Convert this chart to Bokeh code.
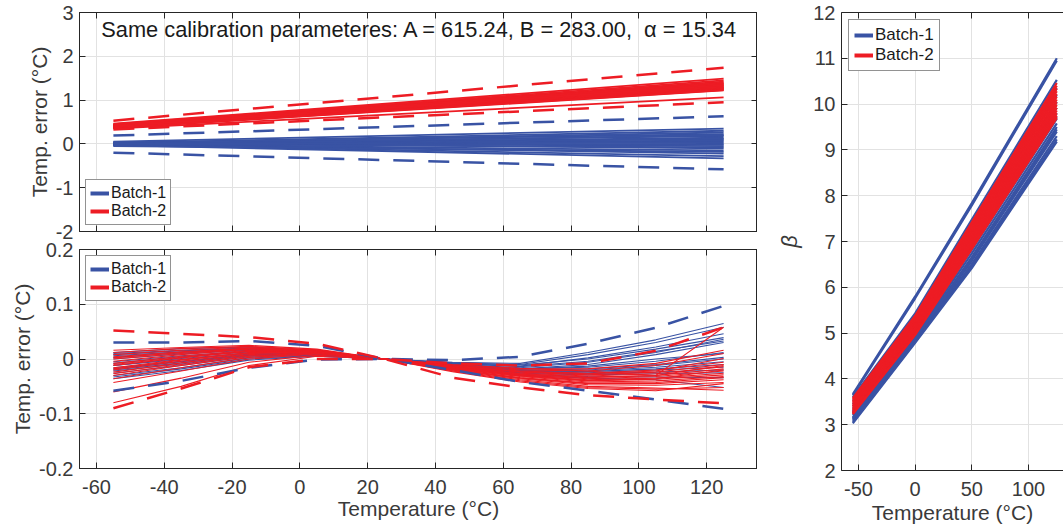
from bokeh.plotting import figure
from bokeh.models import (Range1d, FixedTicker, LinearAxis, Legend, LegendItem,
                          Label, CustomJSTickFormatter)
from bokeh.layouts import row, column
from bokeh.embed import file_html
from bokeh.resources import INLINE

# ---------------- data ----------------
# top-left panel: temperature error with same calibration parameters (lines from -55 to 125 degC)
x_top = [-55, 125]
blue_top_start = [0.04, 0.03, 0.03, 0.02, 0.02, 0.01, 0.01, 0.0, 0.0, -0.01, -0.01,
                  -0.02, -0.02, -0.03, -0.03, -0.04, 0.05, -0.05, 0.02, -0.02, 0.0, 0.01]
blue_top_end = [0.10, -0.05, 0.22, 0.30, -0.10, 0.18, 0.26, -0.22, 0.05, 0.14, -0.15,
                0.20, -0.28, 0.08, -0.33, 0.12, 0.35, -0.18, -0.02, 0.0, -0.08, 0.03]
red_top_start = [0.36, 0.38, 0.40, 0.42, 0.44, 0.37, 0.39, 0.41, 0.43, 0.46,
                 0.38, 0.40, 0.42, 0.35, 0.45, 0.39, 0.41, 0.43, 0.37, 0.40]
red_top_end = [1.22, 1.25, 1.30, 1.35, 1.42, 1.26, 1.28, 1.33, 1.38, 1.49,
               1.24, 1.27, 1.40, 1.06, 1.45, 1.29, 1.31, 1.37, 1.23, 1.34]
blue_top_upper = [0.19, 0.63]
blue_top_lower = [-0.20, -0.58]
red_top_upper = [0.53, 1.74]
red_top_lower = [0.33, 0.95]

# bottom-left panel: residual temperature error
x_bot = [-55, -35, -15, 5, 25, 45, 65, 85, 105, 125]
blue_bot = [
    [-0.005, 0.006, 0.014, 0.012, 0, -0.006, -0.008, 0.012, 0.035, 0.065],
    [0.0, 0.009, 0.016, 0.012, 0, -0.007, -0.010, 0.008, 0.030, 0.058],
    [-0.012, 0.001, 0.011, 0.010, 0, -0.008, -0.013, 0.002, 0.022, 0.046],
    [0.010, 0.016, 0.020, 0.014, 0, -0.007, -0.011, 0.000, 0.018, 0.039],
    [-0.020, -0.007, 0.007, 0.009, 0, -0.009, -0.016, -0.006, 0.012, 0.036],
    [-0.016, -0.004, 0.009, 0.009, 0, -0.010, -0.018, -0.010, 0.008, 0.030],
    [0.006, 0.013, 0.018, 0.013, 0, -0.009, -0.018, -0.015, -0.004, 0.012],
    [-0.026, -0.012, 0.004, 0.007, 0, -0.011, -0.021, -0.018, -0.010, 0.003],
    [-0.030, -0.016, 0.002, 0.006, 0, -0.012, -0.023, -0.022, -0.015, -0.005],
    [0.012, 0.019, 0.022, 0.015, 0, -0.011, -0.021, -0.023, -0.018, -0.010],
    [-0.036, -0.021, -0.002, 0.005, 0, -0.013, -0.025, -0.027, -0.024, -0.020],
    [-0.008, 0.004, 0.013, 0.011, 0, -0.012, -0.026, -0.029, -0.027, -0.025],
    [-0.033, -0.018, 0.000, 0.005, 0, -0.014, -0.028, -0.032, -0.033, -0.034],
    [0.003, 0.011, 0.017, 0.012, 0, -0.013, -0.030, -0.035, -0.038, -0.052],
    [-0.018, -0.005, 0.008, 0.009, 0, -0.012, -0.024, -0.025, -0.020, -0.015],
    [-0.012, -0.001, 0.011, 0.010, 0, -0.008, -0.014, -0.004, 0.014, 0.033],
    [-0.022, -0.009, 0.006, 0.008, 0, -0.010, -0.019, -0.013, 0.000, 0.010],
    [0.008, 0.015, 0.019, 0.013, 0, -0.010, -0.020, -0.020, -0.012, 0.000],
]
red_bot = [
    [0.016, 0.021, 0.025, 0.018, 0, -0.010, -0.017, -0.022, -0.030, 0.058],
    [0.012, 0.019, 0.023, 0.017, 0, -0.011, -0.018, -0.018, -0.008, 0.016],
    [0.008, 0.016, 0.022, 0.016, 0, -0.012, -0.020, -0.022, -0.012, 0.010],
    [0.004, 0.013, 0.020, 0.016, 0, -0.013, -0.022, -0.026, -0.020, -0.006],
    [0.000, 0.010, 0.019, 0.015, 0, -0.014, -0.024, -0.029, -0.024, -0.010],
    [-0.004, 0.008, 0.018, 0.015, 0, -0.014, -0.026, -0.031, -0.027, -0.014],
    [-0.008, 0.005, 0.016, 0.014, 0, -0.015, -0.027, -0.033, -0.030, -0.018],
    [-0.012, 0.002, 0.014, 0.014, 0, -0.016, -0.029, -0.036, -0.032, -0.022],
    [-0.016, -0.001, 0.012, 0.013, 0, -0.017, -0.030, -0.038, -0.035, -0.026],
    [-0.020, -0.004, 0.010, 0.013, 0, -0.017, -0.031, -0.040, -0.037, -0.029],
    [-0.024, -0.007, 0.008, 0.012, 0, -0.018, -0.032, -0.042, -0.040, -0.032],
    [-0.027, -0.010, 0.006, 0.011, 0, -0.019, -0.034, -0.044, -0.043, -0.034],
    [-0.036, -0.016, 0.003, 0.010, 0, -0.020, -0.036, -0.047, -0.048, -0.043],
    [-0.043, -0.022, 0.000, 0.009, 0, -0.021, -0.038, -0.050, -0.053, -0.057],
    [-0.060, -0.035, -0.006, 0.007, 0, -0.022, -0.040, -0.052, -0.055, -0.052],
    [-0.080, -0.050, -0.012, 0.005, 0, -0.023, -0.042, -0.054, -0.058, -0.045],
    [0.002, 0.012, 0.019, 0.016, 0, -0.013, -0.023, -0.027, -0.022, 0.001],
    [-0.010, 0.003, 0.015, 0.014, 0, -0.015, -0.028, -0.034, -0.030, -0.012],
    [-0.018, -0.002, 0.011, 0.013, 0, -0.016, -0.030, -0.039, -0.036, -0.020],
    [-0.030, -0.012, 0.005, 0.011, 0, -0.019, -0.035, -0.045, -0.045, -0.038],
]
blue_bot_upper = [0.030, 0.030, 0.033, 0.024, 0, -0.002, 0.004, 0.028, 0.057, 0.097]
blue_bot_lower = [-0.058, -0.040, -0.016, -0.001, 0, -0.020, -0.042, -0.058, -0.074, -0.091]
red_bot_upper = [0.052, 0.046, 0.040, 0.028, 0, -0.008, -0.012, -0.008, 0.015, 0.058]
red_bot_lower = [-0.090, -0.054, -0.015, 0.000, 0, -0.034, -0.052, -0.066, -0.074, -0.081]

# right panel: beta versus temperature
x_beta = [-55, 0, 50, 125]
blue_beta = [
    [3.67, 5.80, 7.84, 11.00],
    [3.64, 5.76, 7.79, 10.95],
    [3.60, 5.43, 7.48, 10.53],
    [3.52, 5.32, 7.33, 10.35],
    [3.45, 5.23, 7.20, 10.20],
    [3.40, 5.16, 7.10, 10.05],
    [3.35, 5.10, 7.00, 9.92],
    [3.30, 5.04, 6.91, 9.80],
    [3.25, 4.99, 6.82, 9.68],
    [3.20, 4.94, 6.74, 9.58],
    [3.16, 4.90, 6.66, 9.50],
    [3.12, 4.86, 6.58, 9.40],
    [3.09, 4.83, 6.51, 9.30],
    [3.06, 4.81, 6.46, 9.23],
    [3.03, 4.79, 6.42, 9.18],
    [3.28, 5.01, 6.86, 9.72],
    [3.14, 4.88, 6.62, 9.45],
]
red_beta = [
    [3.58, 5.38, 7.42, 10.46],
    [3.55, 5.34, 7.37, 10.40],
    [3.52, 5.30, 7.32, 10.34],
    [3.49, 5.26, 7.27, 10.28],
    [3.46, 5.23, 7.22, 10.22],
    [3.43, 5.19, 7.17, 10.16],
    [3.40, 5.16, 7.12, 10.10],
    [3.37, 5.12, 7.07, 10.04],
    [3.34, 5.09, 7.03, 9.98],
    [3.31, 5.05, 6.98, 9.92],
    [3.28, 5.02, 6.94, 9.86],
    [3.26, 4.99, 6.90, 9.80],
    [3.24, 4.97, 6.86, 9.75],
    [3.23, 4.96, 6.84, 9.70],
]

temp_ticks = [-60, -40, -20, 0, 20, 40, 60, 80, 100, 120]
err_top_ticks = [-2, -1, 0, 1, 2, 3]
err_bot_ticks = [-0.2, -0.1, 0, 0.1, 0.2]
beta_temp_ticks = [-50, 0, 50, 100]
beta_ticks = [2, 3, 4, 5, 6, 7, 8, 9, 10, 11, 12]
series_names = ["Batch-1", "Batch-2"]
title_text = "Same calibration parameteres: A = 615.24, B = 283.00, \u00a0\u03b1 = 15.34"

# ---------------- style ----------------
BLUE = "#3953A4"
RED = "#ED1C24"
AX = "#262626"
TXT = "#3a3a3a"
GRID = "#E2E2E2"
FONT = "Liberation Sans"
DASH = "21 14"
NAN = float("nan")


def style_axis(ax, ticks, labels=True):
    ax.ticker = FixedTicker(ticks=ticks)
    ax.axis_line_color = AX
    ax.axis_line_width = 1
    ax.major_tick_line_color = AX
    ax.major_tick_in = 6
    ax.major_tick_out = 0
    ax.minor_tick_line_color = None
    ax.major_label_text_font = FONT
    ax.major_label_text_font_size = "20px"
    ax.major_label_text_color = TXT
    ax.axis_label_text_font = FONT
    ax.axis_label_text_font_size = "21px"
    ax.axis_label_text_color = TXT
    ax.axis_label_text_font_style = "normal"
    if labels:
        ax.formatter = CustomJSTickFormatter(code="return String(tick);")
    else:
        ax.formatter = CustomJSTickFormatter(code="return '';")
        ax.major_label_standoff = 0
        ax.major_label_text_font_size = "1px"
        ax.major_label_text_color = None


def make_fig(w, h, xr, yr, bl, br, bt, bb):
    p = figure(width=w, height=h, x_range=Range1d(*xr), y_range=Range1d(*yr),
               output_backend="svg", toolbar_location=None,
               min_border_left=bl, min_border_right=br,
               min_border_top=bt, min_border_bottom=bb)
    p.outline_line_color = AX
    p.outline_line_width = 1
    p.background_fill_color = "white"
    p.border_fill_color = "white"
    return p


def grids(p, xt, yt):
    p.xgrid.ticker = FixedTicker(ticks=xt)
    p.ygrid.ticker = FixedTicker(ticks=yt)
    p.xgrid.grid_line_color = GRID
    p.ygrid.grid_line_color = GRID
    p.xgrid.grid_line_width = 1
    p.ygrid.grid_line_width = 1


def mirror(p, xt, yt, top=True, right=True):
    if top:
        a = LinearAxis()
        style_axis(a, xt, labels=False)
        p.add_layout(a, "above")
    if right:
        a = LinearAxis()
        style_axis(a, yt, labels=False)
        p.add_layout(a, "right")


def add_legend(p, loc, size, margin, pad):
    lb = p.line(x=[NAN], y=[NAN], color=BLUE, line_width=4)
    lr = p.line(x=[NAN], y=[NAN], color=RED, line_width=4)
    leg = Legend(items=[LegendItem(label=series_names[0], renderers=[lb]),
                        LegendItem(label=series_names[1], renderers=[lr])],
                 location=loc, margin=margin, padding=pad, spacing=0,
                 glyph_width=19, glyph_height=18, label_height=18,
                 label_standoff=2, label_text_font=FONT,
                 label_text_font_size=size, label_text_color="#1a1a1a",
                 border_line_color=AX, border_line_width=1,
                 background_fill_color="white", background_fill_alpha=1)
    p.add_layout(leg)


# ---------------- top-left ----------------
p1 = make_fig(757, 244, (-65, 135), (-2, 3), 79, 0, 12, 13)
style_axis(p1.below[0], temp_ticks, labels=False)
style_axis(p1.left[0], err_top_ticks)
p1.left[0].axis_label = "Temp. error (\u00b0C)"
p1.left[0].major_label_standoff = 6
p1.left[0].axis_label_standoff = 2
grids(p1, temp_ticks, err_top_ticks)
mirror(p1, temp_ticks, err_top_ticks)
for s, e in zip(blue_top_start, blue_top_end):
    p1.line(x_top, [s, e], color=BLUE, line_width=1.8)
for s, e in zip(red_top_start, red_top_end):
    p1.line(x_top, [s, e], color=RED, line_width=1.8)
for ys in (blue_top_upper, blue_top_lower):
    p1.line(x_top, ys, color=BLUE, line_width=2.5, line_dash=DASH)
for ys in (red_top_upper, red_top_lower):
    p1.line(x_top, ys, color=RED, line_width=2.5, line_dash=DASH)
p1.add_layout(Label(x=35.4, y=2.61, text=title_text, text_align="center",
                    text_baseline="middle", text_font=FONT,
                    text_font_size="21.8px", text_color="#1a1a1a"))
add_legend(p1, "bottom_left", "16px", 6, 4)

# ---------------- bottom-left ----------------
p2 = make_fig(757, 290, (-65, 135), (-0.2, 0.2), 79, 0, 11, 60)
p2.border_fill_alpha = 0
p2.margin = (-6, 0, 0, 0)
style_axis(p2.below[0], temp_ticks)
style_axis(p2.left[0], err_bot_ticks)
p2.below[0].axis_label = "Temperature (\u00b0C)"
p2.below[0].major_label_standoff = 11
p2.below[0].axis_label_standoff = 0
p2.left[0].axis_label = "Temp. error (\u00b0C)"
p2.left[0].major_label_standoff = 6
p2.left[0].axis_label_standoff = 2
grids(p2, temp_ticks, err_bot_ticks)
mirror(p2, temp_ticks, err_bot_ticks)
for ys in blue_bot:
    p2.line(x_bot, ys, color=BLUE, line_width=1.1)
for ys in red_bot:
    p2.line(x_bot, ys, color=RED, line_width=1.1)
for ys in (blue_bot_upper, blue_bot_lower):
    p2.line(x_bot, ys, color=BLUE, line_width=2.5, line_dash=DASH)
for ys in (red_bot_upper, red_bot_lower):
    p2.line(x_bot, ys, color=RED, line_width=2.5, line_dash=DASH)
add_legend(p2, "top_left", "16px", 6, 4)

# ---------------- right ----------------
p3 = make_fig(306, 528, (-65, 130.9), (2, 12), 84, 0, 12, 58)
p3.outline_line_color = None
style_axis(p3.below[0], beta_temp_ticks)
style_axis(p3.left[0], beta_ticks)
p3.below[0].axis_label = "Temperature (\u00b0C)"
p3.below[0].major_label_standoff = 11
p3.below[0].axis_label_standoff = 2
p3.left[0].axis_label = "\u03b2"
p3.left[0].axis_label_text_font_style = "italic"
p3.left[0].axis_label_text_font_size = "22px"
p3.left[0].major_label_standoff = 6
p3.left[0].axis_label_standoff = 8
grids(p3, beta_temp_ticks, beta_ticks)
mirror(p3, beta_temp_ticks, beta_ticks, top=True, right=False)
for ys in blue_beta:
    p3.line(x_beta, ys, color=BLUE, line_width=2.2)
for ys in red_beta:
    p3.line(x_beta, ys, color=RED, line_width=2.2)
add_legend(p3, "top_left", "17px", 7, 5)

layout = row(column(p1, p2), p3)
open("out.html", "w").write(file_html(layout, INLINE))
